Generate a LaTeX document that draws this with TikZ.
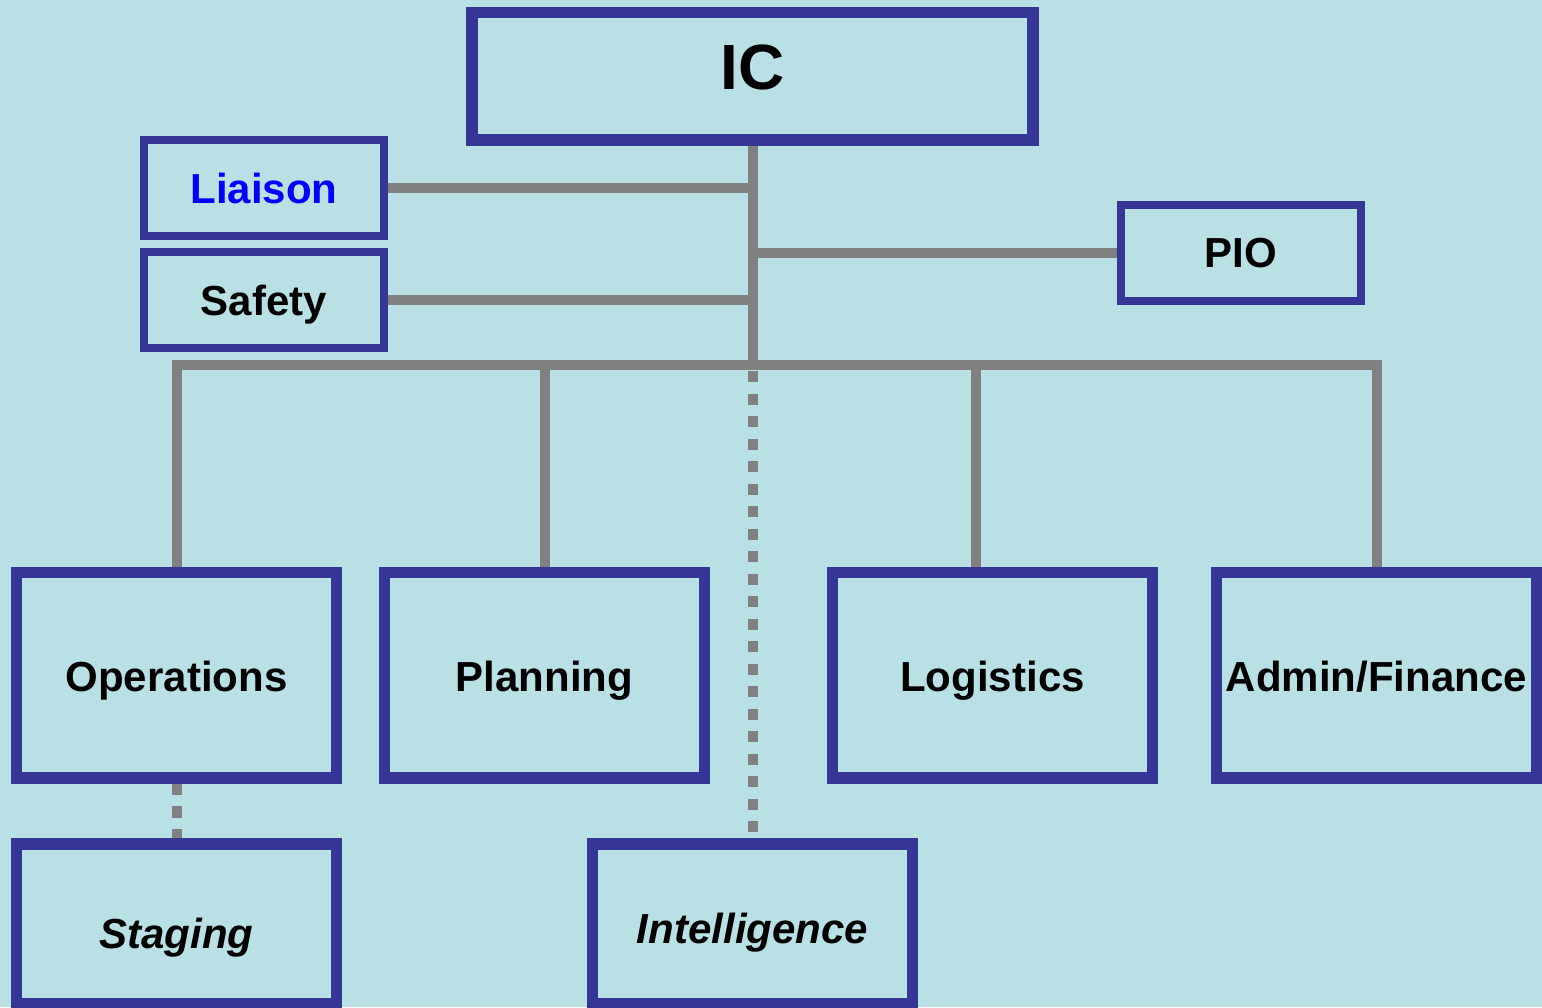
\documentclass[tikz,border=0pt]{standalone}
\usepackage{fontspec}
\setmainfont{Liberation Sans}
\usepackage{tikz}
\usetikzlibrary{positioning, backgrounds}
\usepackage{xcolor}

\definecolor{bgcyan}{RGB}{185,224,228}
\definecolor{boxblue}{RGB}{54,54,150}
\definecolor{linkgray}{RGB}{128,128,128}

\tikzset{
  box/.style={draw=boxblue, fill=bgcyan, line width=5.8pt, inner sep=0pt,
    font=\fontsize{21pt}{25pt}\selectfont\bfseries, text height=15pt, text depth=0pt},
  topbox/.style={box, minimum width=280.25pt, minimum height=63.85pt,
    font=\fontsize{32pt}{36pt}\selectfont\bfseries, text height=23pt, text depth=10pt},
  staffbox/.style={box, line width=4pt, minimum width=120pt, minimum height=48pt},
  sectionbox/.style={box, minimum width=160pt, minimum height=102.85pt, text height=16pt},
  unitbox/.style={sectionbox, minimum height=80pt,
    font=\fontsize{21pt}{25pt}\selectfont\bfseries\itshape},
  conn/.style={draw=linkgray, line width=5pt},
  dotconn/.style={conn, dash pattern=on 5.65pt off 5.6pt}
}

\begin{document}
\begin{tikzpicture}[x=0.5pt, y=-0.5pt]
    \useasboundingbox (0,0) rectangle (1542,1007);

    \node[topbox] (ic) at (752.5,76.3) {IC};
    \node[staffbox, text=blue] (liaison) at (264,188) {Liaison};
    \node[staffbox] (safety) [below=4pt of liaison] {Safety};
    \node[staffbox] (pio) at (1240.5,252.5) {PIO};
    \coordinate (bus) at (752.5,364.5);

    \node[sectionbox] (ops) at (176.5,675.3) {Operations};
    \node[sectionbox] (planning) [right=18.2pt of ops] {Planning};
    \node[sectionbox] (logistics) [right=58.2pt of planning] {Logistics};
    \node[sectionbox] (admin) [right=26.2pt of logistics] {Admin/Finance};

    \node[unitbox, text height=24pt] (staging) [below=27.15pt of ops] {Staging};
    \node[unitbox, text height=19pt] (intel) at (752.5,924.2) {Intelligence};

    % links go under the boxes
    \begin{scope}[on background layer]
    \fill[bgcyan] (0,0) rectangle (1542,1007);
    \draw[conn] (ic.south) -- (bus);
    \draw[conn] (liaison.east) -- (liaison.east -| ic.south);
    \draw[conn] (safety.east) -- (safety.east -| ic.south);
    \draw[conn] (pio.west) -- (pio.west -| ic.south);
    \draw[conn] (ops.north) |- (bus) -| (admin.north);
    \draw[conn] (planning.north) -- (planning.north |- bus);
    \draw[conn] ([xshift=-8.25pt]logistics.north) -- ([xshift=-8.25pt]logistics.north |- bus);
    \draw[dotconn] ([yshift=-3.25pt]bus) -- (intel.north);
    \draw[dotconn] (ops.south) -- (staging.north);
    \end{scope}
\end{tikzpicture}
\end{document}
